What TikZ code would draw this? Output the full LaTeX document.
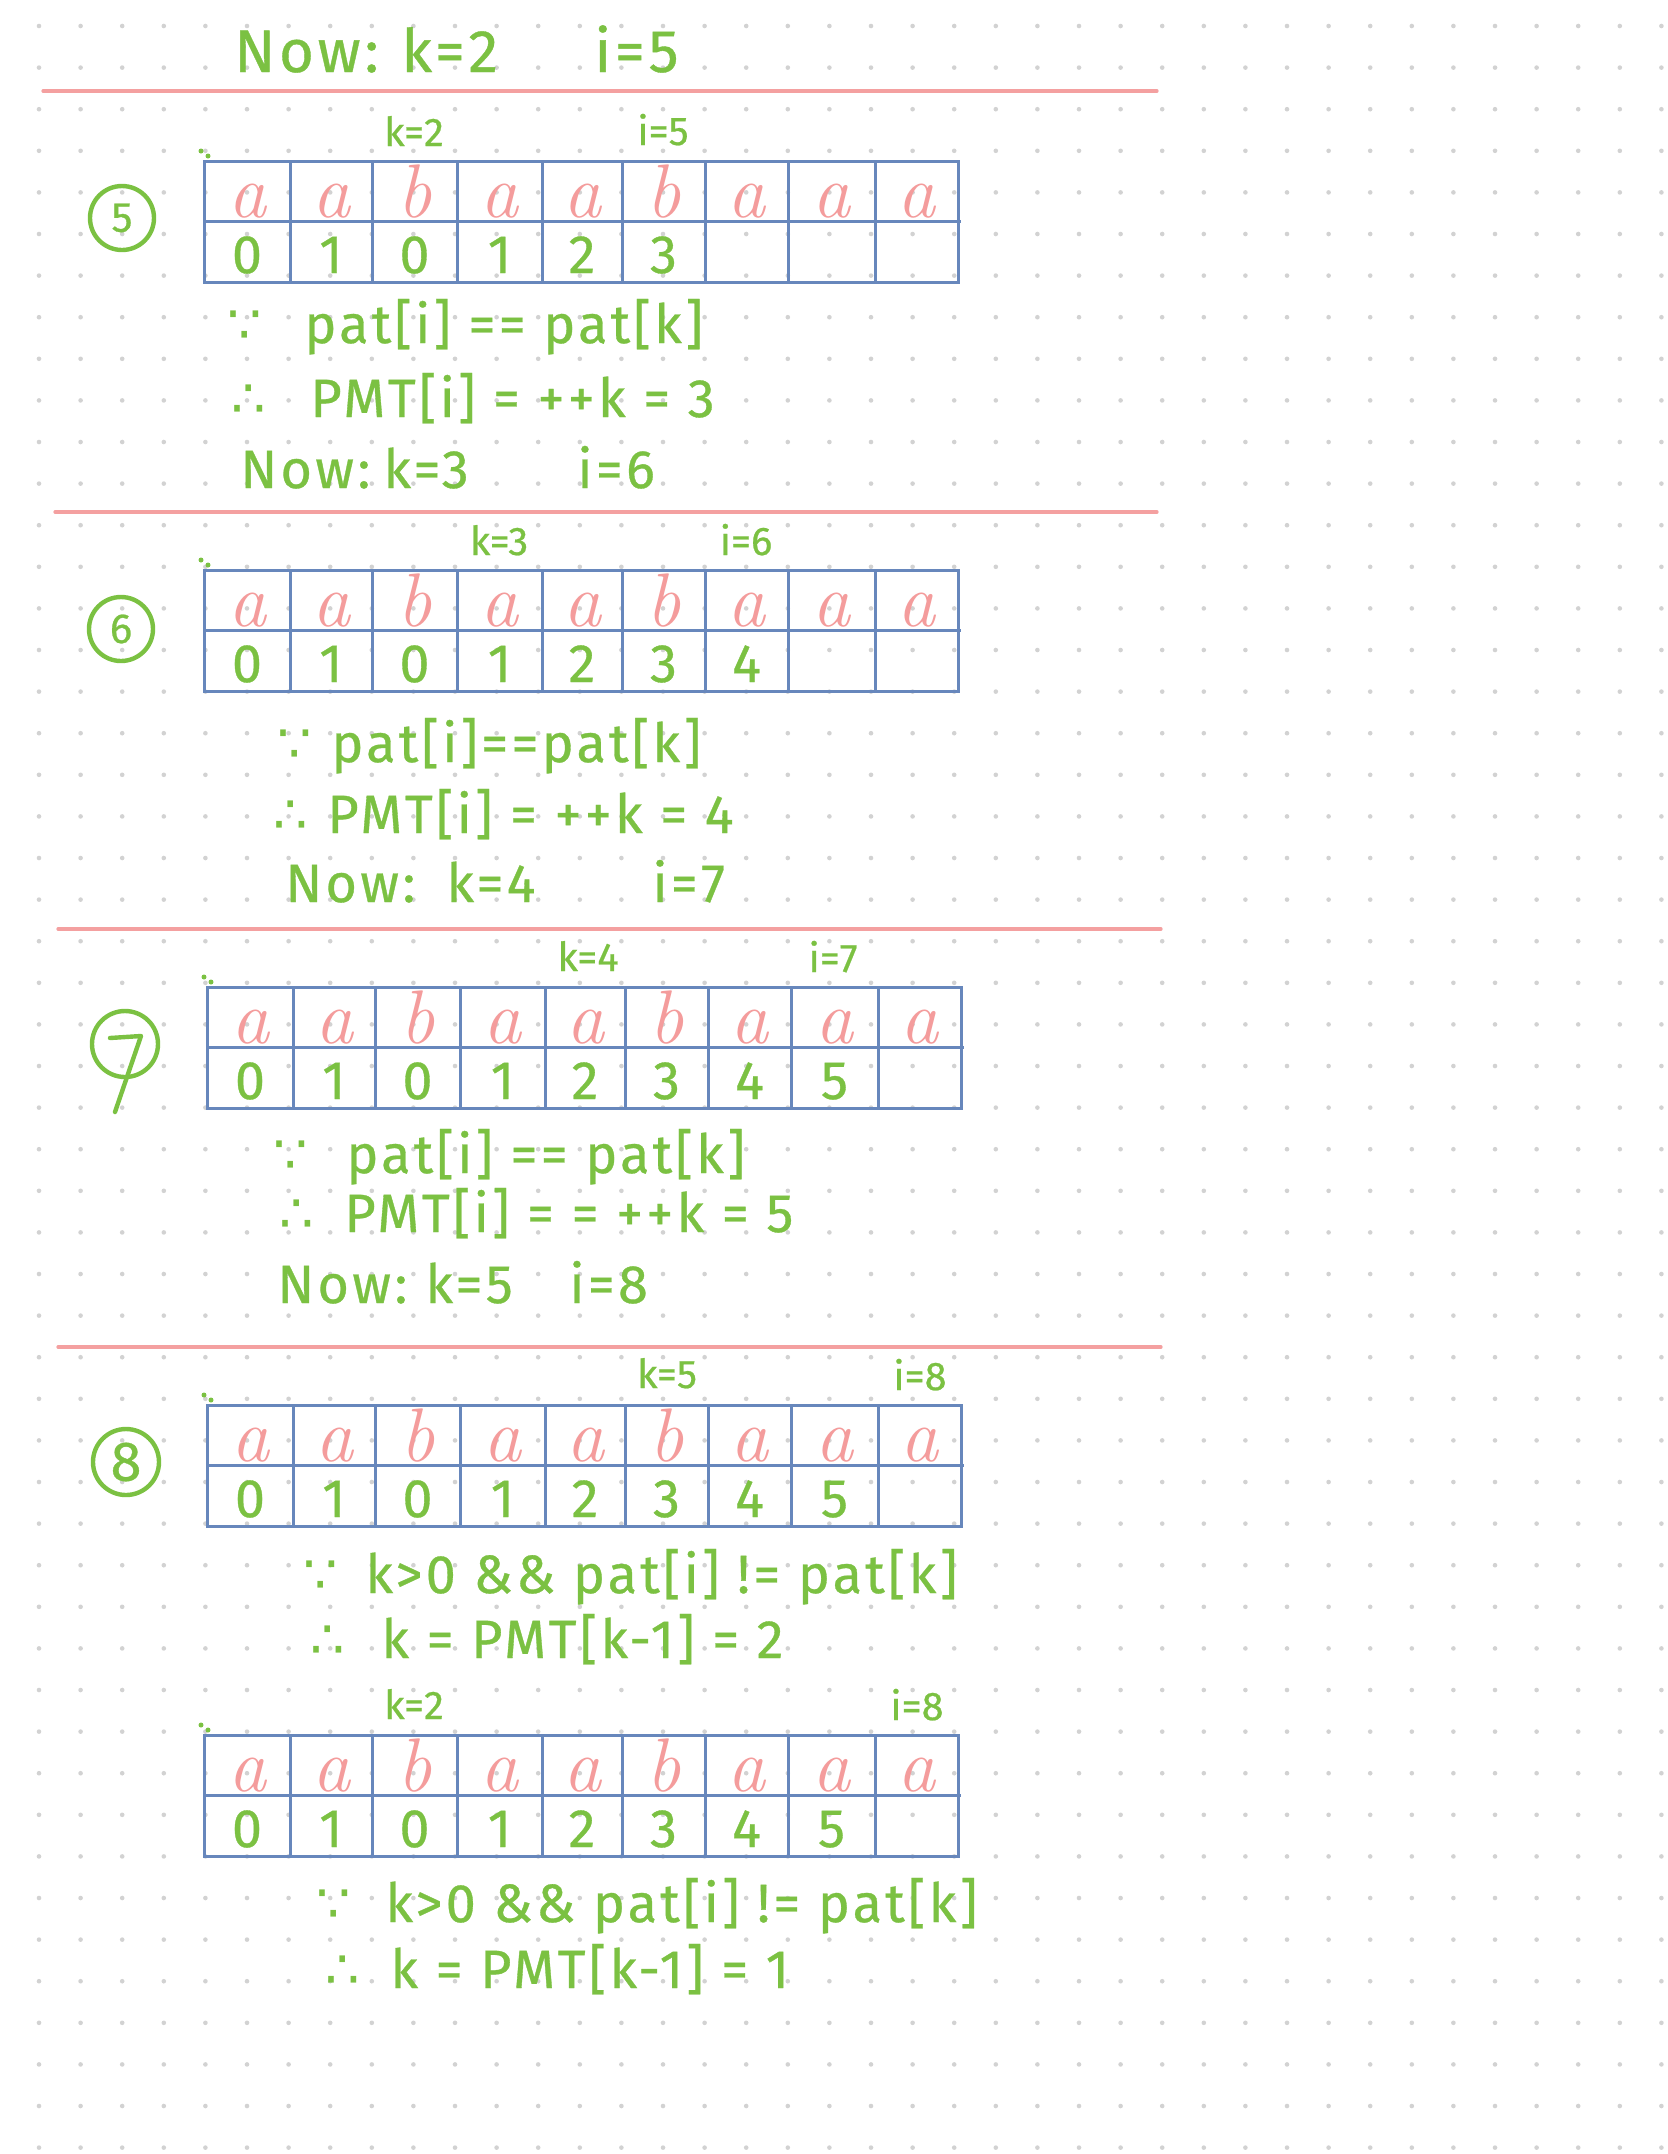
\documentclass[tikz,border=0pt]{standalone}
\usepackage{fontspec}
\newfontfamily\hand[FakeBold=0.6]{Fira Sans}
\newfontfamily\handw[FakeBold=0.6,LetterSpace=6]{Fira Sans}
\newfontfamily\symf{DejaVu Sans}
\definecolor{gc}{HTML}{7BC142}
\definecolor{pc}{HTML}{F49C9C}
\definecolor{bc}{HTML}{6787BC}
\definecolor{rc}{HTML}{F4A0A0}
\definecolor{dotc}{HTML}{D2D2D2}
\def\cellx{{43,127,210.5,295.5,378,459.5,542.5,627.5,712.5}}
\newcommand\kmptab[4]{%
  \draw[tbl] (#2,#3) rectangle ++(754,121);
  \draw[tbl] (#2,#3+60) -- ++(757,0);
  \foreach \o in {86,168,253,338,418,501,584,671} {\draw[tbl] (#2+\o,#3) -- ++(0,121);}
  \foreach \ltr [count=\i] in {a,a,b,a,a,b,a,a,a} {%
    \pgfmathsetmacro\cx{#2+\cellx[\i-1]}%
    \node[pk] (#1a\i) at (\cx,#3+56) {\ltr};}
  \foreach \d [count=\i] in {#4} {%
    \pgfmathsetmacro\cx{#2+\cellx[\i-1]}%
    \node[dg] (#1d\i) at (\cx,#3+112) {\d};}
  \fill[gc] (#2-3,#3-10) circle (2.5) (#2+4,#3-5) circle (2.5);
}
\tikzset{
  txt/.style={text=gc, font=\handw\fontsize{27}{30}\selectfont, inner sep=0pt, anchor=base west},
  big/.style={text=gc, font=\handw\fontsize{30}{33}\selectfont, inner sep=0pt, anchor=base west},
  sym/.style={text=gc, font=\symf\fontsize{27}{30}\selectfont, inner sep=0pt, anchor=base west},
  lbl/.style={text=gc, font=\hand\fontsize{20}{24}\selectfont, inner sep=0pt, anchor=base},
  pk/.style={text=pc, font=\itshape\fontsize{38}{40}\selectfont, inner sep=0pt, anchor=base},
  dg/.style={text=gc, font=\hand\fontsize{27}{30}\selectfont, inner sep=0pt, anchor=base},
  tbl/.style={draw=bc, line width=1.5pt},
  sepline/.style={draw=rc, line width=1.6pt, line cap=round},
  circ/.style={draw=gc, line width=2.2pt},
  cnum/.style={text=gc, font=\hand\fontsize{21}{24}\selectfont, inner sep=0pt},
}
\begin{document}
\begin{tikzpicture}[x=0.5pt,y=-0.5pt]
\fill[white] (0,0) rectangle (1668,2154);
\useasboundingbox (0,0) rectangle (1668,2154);
% dot grid
\foreach \gx in {0,...,39} {\foreach \gy in {0,...,51} {\fill[dotc] (39+\gx*41.6,26+\gy*41.6) circle (2.3);}}

% header
\node[big] (h0) at (234,72) {Now:};
\node[big] (h1) at (401,72) {k=2};
\node[big] (h2) at (594,72) {i=5};
\coordinate (r1a) at (43,91); \coordinate (r1b) at (1157,91);
\draw[sepline] (r1a) -- (r1b);

% step 5
\draw[circ] (122,218) circle (32);
\node[cnum] (c5) at (122,218) {5};
\kmptab{t1}{204}{161}{0,1,0,1,2,3}
\node[lbl] (t1k) at (414,146) {k=2};
\node[lbl] (t1i) at (663,145) {i=5};
\node[sym] (s1a) at (227,343) {∵};
\node[txt] (s1b) at (304,343) {pat[i] == pat[k]};
\node[sym] (s1c) at (231,417) {∴};
\node[txt] (s1d) at (310,417) {PMT[i] = ++k = 3};
\node[txt] (s1e) at (240,488) {Now:};
\node[txt] (s1f) at (383,488) {k=3};
\node[txt] (s1g) at (577,488) {i=6};
\coordinate (r2a) at (55,512); \coordinate (r2b) at (1157,512);
\draw[sepline] (r2a) -- (r2b);

% step 6
\draw[circ] (121,629) circle (32);
\node[cnum] (c6) at (121,629) {6};
\kmptab{t2}{204}{570}{0,1,0,1,2,3,4}
\node[lbl] (t2k) at (499,555) {k=3};
\node[lbl] (t2i) at (746,555) {i=6};
\node[sym] (s2a) at (277,762) {∵};
\node[txt] (s2b) at (331,762) {pat[i]==pat[k]};
\node[sym] (s2c) at (273,833) {∴};
\node[txt] (s2d) at (327,833) {PMT[i] = ++k = 4};
\node[txt] (s2e) at (285,902) {Now:};
\node[txt] (s2f) at (446,902) {k=4};
\node[txt] (s2g) at (652,902) {i=7};
\coordinate (r3a) at (58,929); \coordinate (r3b) at (1161,929);
\draw[sepline] (r3a) -- (r3b);

% step 7
\draw[circ] (125,1044) circle (33);
\coordinate (p7a) at (110,1038); \coordinate (p7b) at (141,1036); \coordinate (p7c) at (115,1112);
\draw[circ, line cap=round, line join=round] (p7a) -- (p7b) -- (p7c);
\kmptab{t3}{207}{987}{0,1,0,1,2,3,4,5}
\node[lbl] (t3k) at (588,971) {k=4};
\node[lbl] (t3i) at (833,972) {i=7};
\node[sym] (s3a) at (273,1173) {∵};
\node[txt] (s3b) at (346,1173) {pat[i] == pat[k]};
\node[sym] (s3c) at (279,1232) {∴};
\node[txt] (s3d) at (344,1232) {PMT[i] = = ++k = 5};
\node[txt] (s3e) at (277,1303) {Now:};
\node[txt] (s3f) at (425,1303) {k=5};
\node[txt] (s3g) at (569,1303) {i=8};
\coordinate (r4a) at (58,1347); \coordinate (r4b) at (1161,1347);
\draw[sepline] (r4a) -- (r4b);

% step 8
\draw[circ] (126,1462) circle (33);
\node[cnum, font=\hand\fontsize{28}{30}\selectfont] (c8) at (126,1462) {8};
\kmptab{t4}{207}{1405}{0,1,0,1,2,3,4,5}
\node[lbl] (t4k) at (667,1388) {k=5};
\node[lbl] (t4i) at (920,1390) {i=8};
\node[sym] (s4a) at (303,1593) {∵};
\node[txt] (s4b) at (365,1593) {k>0 \&\& pat[i] != pat[k]};
\node[sym] (s4c) at (310,1658) {∴};
\node[txt] (s4d) at (381,1658) {k = PMT[k-1] = 2};

\kmptab{t5}{204}{1735}{0,1,0,1,2,3,4,5}
\node[lbl] (t5k) at (414,1719) {k=2};
\node[lbl] (t5i) at (917,1720) {i=8};
\node[sym] (s5a) at (316,1922) {∵};
\node[txt] (s5b) at (385,1922) {k>0 \&\& pat[i] != pat[k]};
\node[sym] (s5c) at (325,1988) {∴};
\node[txt] (s5d) at (390,1988) {k = PMT[k-1] = 1};
\end{tikzpicture}
\end{document}
